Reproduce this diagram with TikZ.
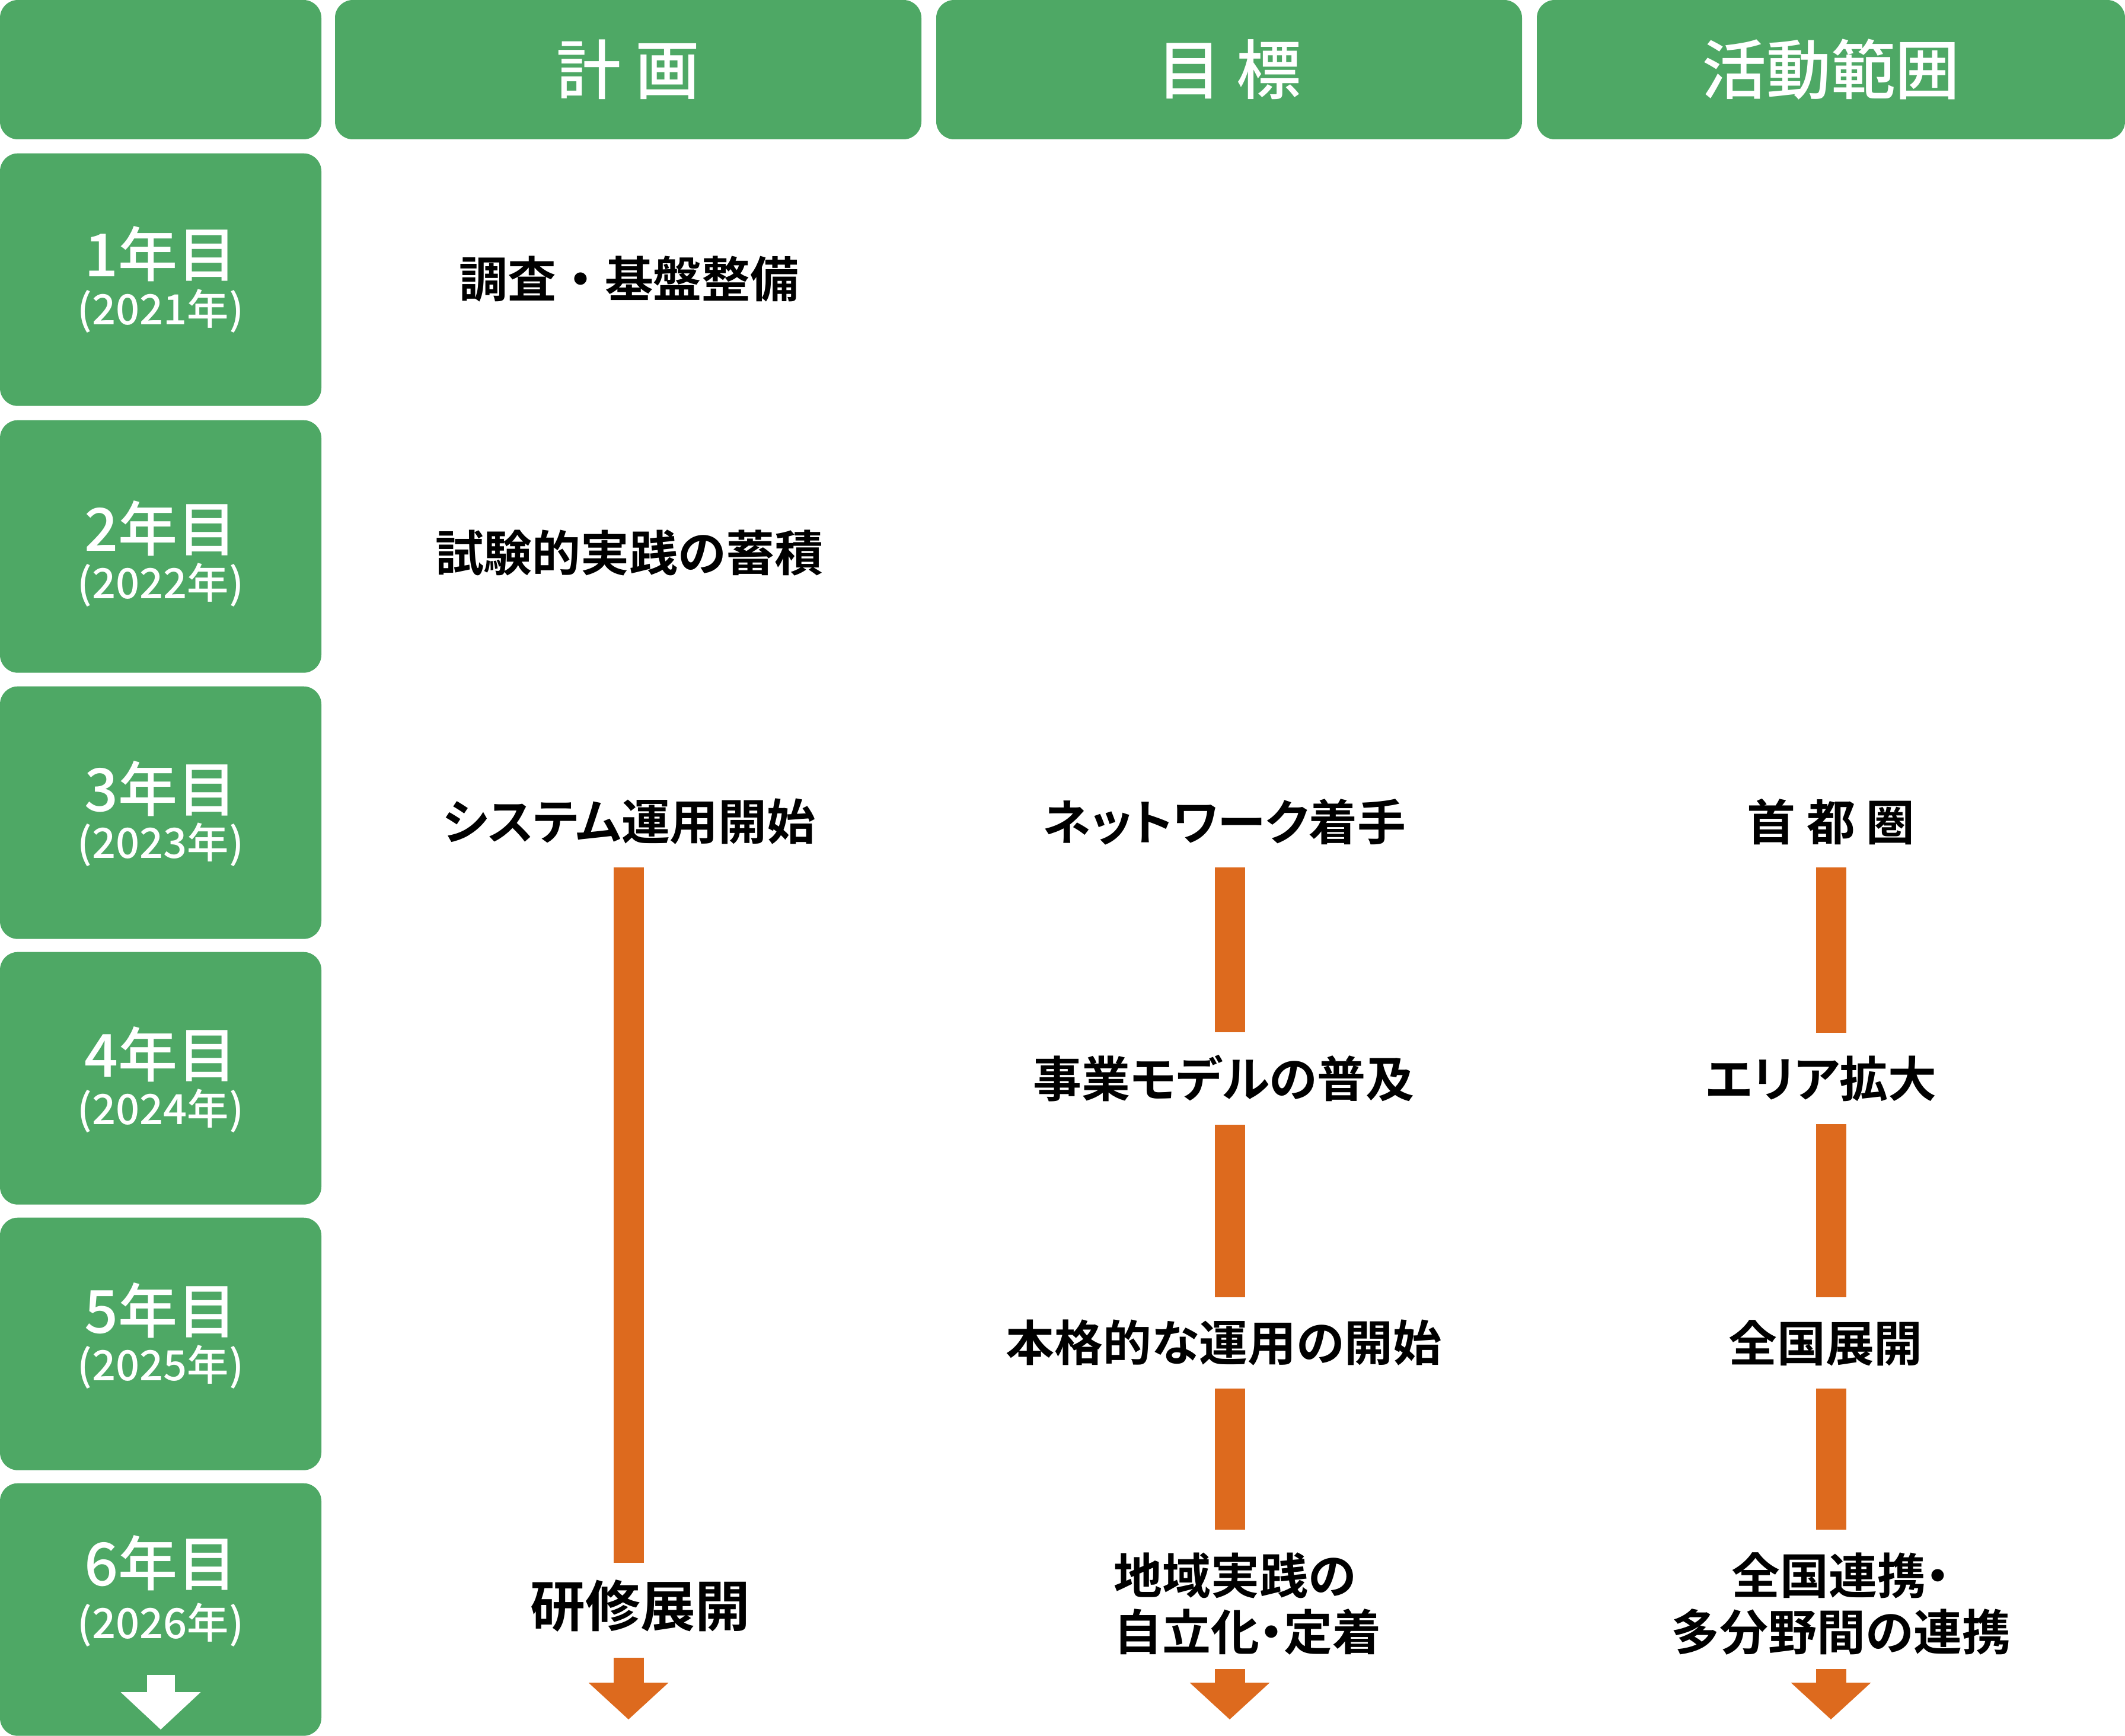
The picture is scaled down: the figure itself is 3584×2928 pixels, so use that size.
\documentclass[tikz,border=0pt]{standalone}
\usepackage{fontspec}
\usepackage{tikz}
\usetikzlibrary{arrows.meta}
\newfontfamily\jpfont{Noto Sans CJK JP}[BoldFont={Noto Sans CJK JP Bold},RawFeature=+palt]
\newfontfamily\jpwide{Noto Sans CJK JP}[BoldFont={Noto Sans CJK JP Bold}]
\newfontfamily\jpmid{Noto Sans CJK JP Medium}
\definecolor{tlGreen}{HTML}{4EA865}
\definecolor{tlOrange}{HTML}{DD6A1E}
\tikzset{
  tl chart/.style={x=0.1mm, y=-0.1mm, font=\jpfont},
  tl cell/.style={fill=tlGreen, rounded corners=3mm, inner sep=0pt},
  tl head/.style={tl cell, text=white, font=\jpmid\fontsize{31pt}{36pt}\selectfont},
  tl year/.style={text=white, inner sep=0pt, font=\jpmid\fontsize{28.5pt}{34pt}\selectfont},
  tl date/.style={text=white, inner sep=0pt, font=\jpmid\fontsize{20pt}{24pt}\selectfont},
  tl item/.style={inner sep=0pt, text=black, font=\jpfont\bfseries\fontsize{23.3pt}{27pt}\selectfont},
  tl big/.style={tl item, font=\jpfont\bfseries\fontsize{26.4pt}{30pt}\selectfont},
  tl bar/.style={draw=tlOrange, line width=5.1mm, shorten <=3.8mm, shorten >=3.8mm},
  tl arrow/.style={draw=tlOrange, line width=5.1mm, -{Triangle[width=13.5mm,length=6.2mm,line width=0pt]}},
  tl down/.style={draw=white, line width=4.7mm, -{Triangle[width=13.5mm,length=6.3mm,line width=0pt]}}
}
\begin{document}
\begin{tikzpicture}[tl chart]
\useasboundingbox (0,0) rectangle (3584,2928);
\node[tl cell, minimum width=54.2mm, minimum height=23.5mm] (corner) at (271,117.5) {};
\node[tl head, minimum width=98.9mm, minimum height=23.5mm] (plan) at (1059.5,117.5) {計 画};
\node[tl head, minimum width=98.8mm, minimum height=23.5mm] (goal) at (2073,117.5) {目 標};
\node[tl head, minimum width=99.2mm, minimum height=23.5mm] (area) at (3088,117.5) {活動範囲};
\foreach \n/\top/\ym/\yd in {1/258/428/525, 2/708/891/987, 3/1157/1330/1425, 4/1605/1778/1874, 5/2053/2210/2306, 6/2501/2636/2741}{
  \node[tl cell, minimum width=54.2mm, minimum height=42.6mm, anchor=north] (row\n) at (271,\top) {};
  \node[tl year] (year\n) at (271,\ym) {\n 年目};
  \node[tl date] (date\n) at (271,\yd) {(202\n 年)};
}
\coordinate (b1) at (1060,0);
\coordinate (b2) at (2074,0);
\coordinate (b3) at (3088,0);
\coordinate (t0) at (271,2917);
\coordinate (t1) at (1060,2900);
\coordinate (t2) at (2074,2900);
\coordinate (t3) at (3088,2900);
\node[tl item, font=\jpwide\bfseries\fontsize{23.3pt}{27pt}\selectfont] (survey) at (1061,471) {調査・基盤整備};
\node[tl item] (trial) at (1061,932) {試験的実践の蓄積};
\node[tl item] (system) at (1061,1386) {システム運用開始};
\node[tl big] (train) at (1080,2709) {研修展開};
\node[tl item] (network) at (2065,1386) {ネットワーク着手};
\node[tl item] (model) at (2064,1819) {事業モデルの普及};
\node[tl item] (launch) at (2064,2265) {本格的な運用の開始};
\node[tl item, align=left, anchor=west] (local) at (1878,2705) {地域実践の\\自立化・定着};
\node[tl item] (capital) at (3088,1386) {首 都 圏};
\node[tl item] (expand) at (3072,1819) {エリア拡大};
\node[tl item] (nation) at (3079,2265) {全国展開};
\node[tl item, align=center] (link) at (3105,2705) {全国連携・\\多分野間の連携};
\draw[tl bar, shorten >=2.8mm] (system.south -| b1) -- (train.north -| b1);
\draw[tl arrow, shorten <=4.2mm] (train.south -| b1) -- (t1);
\draw[tl bar] (network.south -| b2) -- (model.north -| b2);
\draw[tl bar] (model.south -| b2) -- (launch.north -| b2);
\draw[tl bar] (launch.south -| b2) -- (local.north -| b2);
\draw[tl arrow, shorten <=2.3mm] (local.south -| b2) -- (t2);
\draw[tl bar] (capital.south -| b3) -- (expand.north -| b3);
\draw[tl bar] (expand.south -| b3) -- (nation.north -| b3);
\draw[tl bar] (nation.south -| b3) -- (link.north -| b3);
\draw[tl arrow, shorten <=2.3mm] (link.south -| b3) -- (t3);
\draw[tl down, shorten <=4.6mm] (date6.south) -- (t0);
\end{tikzpicture}
\end{document}
